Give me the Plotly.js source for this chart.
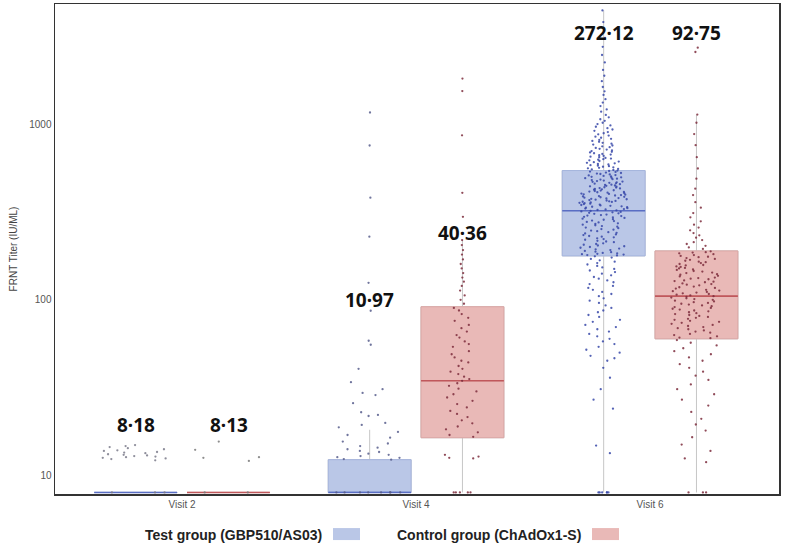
<!DOCTYPE html>
<html><head><meta charset="utf-8">
<script src="https://cdn.plot.ly/plotly-3.0.1.min.js"></script>
<style>html,body{margin:0;padding:0;background:#fff}#chart{width:785px;height:547px}</style>
</head><body><div id="chart"></div>
<script>
// ---------- DATA ----------
const visits = ['Visit 2', 'Visit 4', 'Visit 6'];
const groupNames = ['Test group (GBP510/AS03)', 'Control group (ChAdOx1-S)'];

// GMT labels
const testGMT = ['8·18', '10·97', '272·12'];
const ctrlGMT = ['8·13', '40·36', '92·75'];

// box statistics
const testQ1 = [8, 8, 178];
const testMedian = [8, 8, 322];
const testQ3 = [8, 12.3, 545];
const testLower = [8, 8, 8];
const testUpper = [8, 18.2, 4450];

const ctrlQ1 = [8, 16.4, 60];
const ctrlMedian = [8, 34.6, 105];
const ctrlQ3 = [8, 91.4, 190];
const ctrlLower = [8, 8, 8];
const ctrlUpper = [8, 219, 1135];

// individual titers
const v2TestPts = [14.9, 14.7, 12.9, 13.8, 13.5, 13.2, 12.6, 13.0, 14.1, 12.4, 13.4, 12.8, 14.3, 13.9, 12.2, 13.1, 12.7, 14.5, 13.6, 12.5, 8, 8, 8];
const v2CtrlPts = [15.6, 14.0, 12.6, 12.7, 12.1, 8, 8];

const v4TestPts = [1167, 757, 382, 229, 125, 86.7, 58.5, 55.5, 40.5, 34, 31, 29.5, 28.7, 25.8, 22.9, 22.1, 21.8, 19.9, 19.4, 18.8, 17.7, 17.0, 16.4, 15.6, 15.2, 14.7, 14.4, 14.1, 13.8, 13.6, 13.3, 13.1, 12.9, 12.7, 12.6, 12.4, 12.3, 8, 8, 8, 8, 8, 8, 8, 8];
const v4CtrlPts = [1820, 1545, 865, 407, 297, 219, 205, 192, 181, 170, 160, 151, 142, 134, 127, 120, 113, 106, 100, 95,
  90, 87, 83, 79, 76, 72, 69, 66, 63, 61, 58, 56, 54, 51, 49, 47, 45, 44, 42, 40.5, 39, 37.8, 36.5, 35.4, 34.6, 33.5, 32.4, 31.2, 30.1, 29, 27.8, 26.6, 25.5, 24.4, 23.3, 22.4, 21.5, 20.6, 19.8, 19, 18.3, 17.6, 17, 16.6,
  13.1, 12.8, 12.6, 12.5, 8, 8, 8, 8, 8];

const v6TestPts = [4450, 3820, 3100, 2760, 2480, 2250, 2040, 1890, 1760, 1630, 1540, 1470, 1390, 1330, 1270, 1215, 1180, 1130,
  1095, 1068, 1046, 1020, 1003, 985, 968, 950, 934, 918, 903, 889, 876, 862, 850, 838, 826, 815, 804, 794, 784, 775, 766, 757, 749, 741, 733, 725, 718, 711, 704, 697, 691, 684, 678, 672, 666, 660, 654, 649, 643, 638, 633, 628, 623, 618, 613, 608, 603, 599, 594, 590, 585, 581, 577, 573, 569, 565, 561, 557, 553, 549,
  545, 542, 538, 535, 531, 528, 524, 521, 518, 514, 511, 508, 505, 502, 499, 496, 493, 490, 487, 484, 481, 478, 475, 472, 470, 467, 464, 461, 459, 456, 453, 451, 448, 446, 443, 441, 438, 436, 433, 431, 428, 426, 424, 421, 419, 417, 414, 412, 410, 408, 405, 403, 401, 399, 397, 395, 393, 390, 388, 386, 384, 382, 380, 378, 376, 374, 372, 370, 368, 366, 364, 362, 361, 359, 357, 355, 353, 351, 349, 347, 345, 343, 341, 339, 337, 335, 333, 331, 329, 327, 325, 323, 321, 319, 317, 315, 313, 311, 309, 306, 304, 302, 300, 297, 295, 293, 290, 288, 286, 283, 281, 278, 276, 273, 271, 268, 266, 263, 261, 258, 256, 253, 251, 248, 246, 243, 241, 239, 236, 234, 231, 229, 227, 224, 222, 220, 217, 215, 213, 210, 208, 206, 204, 202, 200, 198, 196, 194, 192, 190, 188, 187, 185, 184, 183, 182, 181, 180, 179,
  177, 174, 171, 168, 165, 162, 159, 156, 153, 150, 147, 144, 141, 138, 135, 132, 129, 126, 123, 120, 117, 114, 111, 108, 105, 102, 99, 96, 93, 90, 87, 85, 82, 80, 77, 75, 72, 70, 68, 66, 64, 62, 60, 58, 56, 54, 52, 50, 48, 46.5, 45, 41, 36, 31, 27, 24, 14.8, 13.4, 8, 8, 8, 8, 8, 8];
const v6CtrlPts = [2730, 2580, 1135, 1020, 880, 760, 650, 560, 490, 430, 395, 360, 335, 312, 295, 280, 268, 258, 249, 240, 233, 226, 219, 213, 208, 203, 199, 195,
  189, 187, 186, 184, 182, 180, 178, 176, 175, 173, 171, 169, 167, 165, 164, 162, 160, 158, 157, 155, 154, 152, 151, 149, 148, 146, 145, 143, 142, 140, 139, 137, 136, 134, 133, 132, 131, 129, 128, 127, 126, 124, 123, 122, 121, 119, 118, 117, 116, 114, 113, 112, 111, 110, 109, 108, 107, 106, 105, 104, 103, 102, 101, 100, 99, 98, 97, 96, 95, 94, 93, 92, 91, 90, 89, 88, 87, 86, 85, 84, 83, 82, 81, 80, 79, 78, 77, 76, 75, 74, 73, 72, 71, 70, 69, 68, 67, 66, 65, 64, 63, 62, 61, 60.5,
  59, 57, 55, 53, 51, 49, 47, 45, 43, 41, 39, 37, 35, 33, 31, 29, 27, 25, 23, 21, 19.5, 18, 16.5, 15, 13.8, 12.5, 11.9, 8, 8, 8];

// ---------- STYLE ----------
const testFill = '#bac7e7', testBorder = '#a5b5de', testMed = '#5a6ec4', testPt = '#3646a8';
const ctrlFill = '#e9b9b7', ctrlBorder = '#dba6a4', ctrlMed = '#c0585c', ctrlPt = '#7d2c3c';
const whiskerColor = '#c6c6c6';

// horizontal spread of the jittered points by titer band (presentation only)
const testBands = [
  [{lo: 0, hi: 9, jitter: 0.9}, {lo: 9, hi: 1e9, jitter: 0.95}],
  [{lo: 0, hi: 9, jitter: 0.95}, {lo: 9, hi: 16, jitter: 1.0}, {lo: 16, hi: 45, jitter: 0.95}, {lo: 45, hi: 1e9, jitter: 0.05}],
  [{lo: 0, hi: 9, jitter: 0.15}, {lo: 9, hi: 46, jitter: 0.3}, {lo: 46, hi: 178, jitter: 0.5}, {lo: 178, hi: 546, jitter: 0.62},
   {lo: 546, hi: 1100, jitter: 0.45}, {lo: 1100, hi: 1e9, jitter: 0.1}]
];
const ctrlBands = [
  [{lo: 0, hi: 9, jitter: 0.9}, {lo: 9, hi: 1e9, jitter: 0.95}],
  [{lo: 0, hi: 9, jitter: 0.25}, {lo: 9, hi: 16.5, jitter: 0.5}, {lo: 16.5, hi: 92, jitter: 0.5}, {lo: 92, hi: 1e9, jitter: 0.07}],
  [{lo: 0, hi: 9, jitter: 0.3}, {lo: 9, hi: 25, jitter: 0.45}, {lo: 25, hi: 60, jitter: 0.55}, {lo: 60, hi: 191, jitter: 0.65},
   {lo: 191, hi: 1100, jitter: 0.3}, {lo: 1100, hi: 1e9, jitter: 0.04}]
];

const common = {type: 'box', alignmentgroup: 'all', whiskerwidth: 0, boxpoints: false, hoverinfo: 'skip', showlegend: false};

function statTraces(group, q1, med, q3, lo, hi, fill, border, medColor) {
  return [
    Object.assign({}, common, {offsetgroup: group, x: visits, q1: q1, median: med, q3: q3, lowerfence: lo, upperfence: hi,
      fillcolor: 'rgba(0,0,0,0)', line: {color: whiskerColor, width: 1}}),
    Object.assign({}, common, {offsetgroup: group, x: visits, q1: q1, median: med, q3: q3, lowerfence: q1, upperfence: q3,
      fillcolor: fill, line: {color: border, width: 1}}),
    Object.assign({}, common, {offsetgroup: group, x: visits, q1: med, median: med, q3: med, lowerfence: med, upperfence: med,
      fillcolor: 'rgba(0,0,0,0)', line: {color: medColor, width: 1.6}})
  ];
}

function ptsTrace(group, visit, vals, color, jitter) {
  return Object.assign({}, common, {
    offsetgroup: group, x: vals.map(() => visit), y: vals,
    boxpoints: 'all', jitter: jitter, pointpos: 0,
    marker: {size: 2.3, color: color, opacity: 0.85, line: {width: 0}},
    line: {width: 0, color: 'rgba(0,0,0,0)'}, fillcolor: 'rgba(0,0,0,0)'
  });
}

function bandTraces(group, visit, vals, color, bands) {
  return bands.map(b => {
    const sub = vals.filter(v => v >= b.lo && v < b.hi);
    return sub.length ? ptsTrace(group, visit, sub, color, b.jitter) : null;
  }).filter(Boolean);
}

const traces = []
  .concat(statTraces('test', testQ1, testMedian, testQ3, testLower, testUpper, testFill, testBorder, testMed))
  .concat(statTraces('ctrl', ctrlQ1, ctrlMedian, ctrlQ3, ctrlLower, ctrlUpper, ctrlFill, ctrlBorder, ctrlMed))
  .concat(bandTraces('test', visits[0], v2TestPts, '#7a7a8a', testBands[0]))
  .concat(bandTraces('test', visits[1], v4TestPts, '#575d8c', testBands[1]))
  .concat(bandTraces('test', visits[2], v6TestPts, testPt, testBands[2]))
  .concat(bandTraces('ctrl', visits[0], v2CtrlPts, '#7a7a7a', ctrlBands[0]))
  .concat(bandTraces('ctrl', visits[1], v4CtrlPts, ctrlPt, ctrlBands[1]))
  .concat(bandTraces('ctrl', visits[2], v6CtrlPts, ctrlPt, ctrlBands[2]));

const testLabelY = [0.141, 0.396, 0.941];
const ctrlLabelY = [0.141, 0.532, 0.941];
const gmtFont = {family: 'Noto Sans, DejaVu Sans, sans-serif', size: 19, color: '#111', weight: 'bold'};

const annotations = [];
visits.forEach((v, i) => {
  annotations.push({xref: 'x', x: v, xshift: -46.5, yref: 'paper', y: testLabelY[i], text: '<b>' + testGMT[i] + '</b>',
    showarrow: false, font: gmtFont, xanchor: 'center', yanchor: 'middle'});
  annotations.push({xref: 'x', x: v, xshift: 46.5, yref: 'paper', y: ctrlLabelY[i], text: '<b>' + ctrlGMT[i] + '</b>',
    showarrow: false, font: gmtFont, xanchor: 'center', yanchor: 'middle'});
});
const legFont = {family: 'Liberation Sans, Arial, sans-serif', size: 14, color: '#222'};
annotations.push({xref: 'paper', yref: 'paper', x: 0.3716, y: -0.0838, text: '<b>' + groupNames[0] + '</b>', showarrow: false,
  xanchor: 'right', yanchor: 'middle', font: legFont});
annotations.push({xref: 'paper', yref: 'paper', x: 0.729, y: -0.0838, text: '<b>' + groupNames[1] + '</b>', showarrow: false,
  xanchor: 'right', yanchor: 'middle', font: legFont});

const shapes = [
  {type: 'rect', xref: 'paper', yref: 'paper', x0: 0.384, x1: 0.4213, y0: -0.0695, y1: -0.094, fillcolor: testFill, line: {width: 0}},
  {type: 'rect', xref: 'paper', yref: 'paper', x0: 0.7417, x1: 0.779, y0: -0.0695, y1: -0.094, fillcolor: ctrlFill, line: {width: 0}}
];

const layout = {
  width: 785, height: 547,
  margin: {l: 55, r: 6, t: 4, b: 53},
  paper_bgcolor: '#fff', plot_bgcolor: '#fff',
  boxmode: 'group', boxgap: 0.207, boxgroupgap: 0.107,
  showlegend: false,
  font: {family: 'Liberation Sans, Arial, sans-serif'},
  xaxis: {type: 'category', range: [-0.543, 2.551], showline: true, mirror: true, linecolor: '#333', linewidth: 1.5,
    ticks: '', showgrid: false, zeroline: false, tickfont: {family: 'Liberation Sans, Arial, sans-serif', size: 10, color: '#555'}},
  yaxis: {type: 'log', range: [Math.log10(7.84), Math.log10(4842)], tickvals: [10, 100, 1000], ticktext: ['10', '100', '1000'],
    showline: true, mirror: true, linecolor: '#333', linewidth: 1.5, showgrid: false, zeroline: false, ticks: '',
    tickfont: {family: 'Liberation Sans, Arial, sans-serif', size: 10, color: '#555'},
    title: {text: 'FRNT Titer (IU/ML)', font: {family: 'Liberation Sans, Arial, sans-serif', size: 10, color: '#444'}, standoff: 10}},
  annotations: annotations,
  shapes: shapes
};

Plotly.newPlot('chart', traces, layout, {staticPlot: true, displayModeBar: false});
</script>
</body></html>
